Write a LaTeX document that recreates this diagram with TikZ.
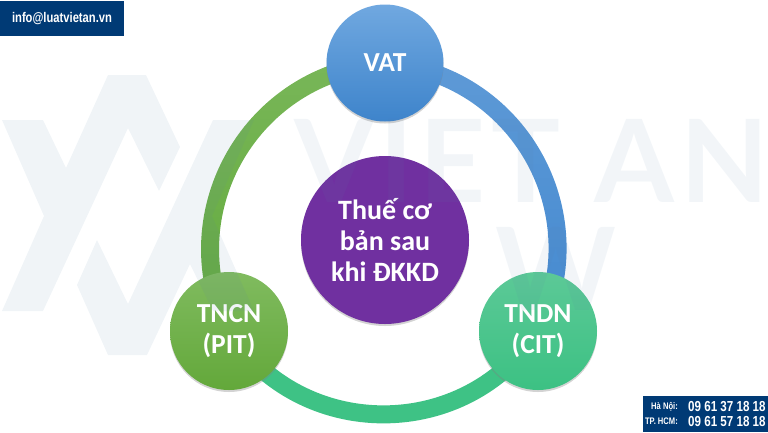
\documentclass[tikz,border=0pt]{standalone}
\usepackage{fontspec}
\setmainfont{Carlito}
\newfontfamily\boxfont[FakeStretch=0.8]{Liberation Sans}
\newfontfamily\markfont[LetterSpace=5]{Lato}
\usetikzlibrary{backgrounds,shadows,fadings}
\definecolor{navy}{HTML}{003A75}
\definecolor{wmblue}{HTML}{5A80A8}

\begin{document}
\begin{tikzpicture}[x=1pt, y=-1pt, every node/.style={circle},
    bubble/.style={inner sep=0pt, text=white, align=center, font=\fontsize{27.5}{30.5}\selectfont\bfseries,
        drop shadow={shadow xshift=0pt, shadow yshift=-2pt, opacity=0.35}},
    ring/.style={line width=18pt},
    gloss/.style={line width=18pt, white, path fading=south, draw opacity=0.15},
    box/.style={rectangle, inner sep=0pt, fill=navy},
    boxtext/.style={rectangle, inner sep=0pt, text=white, font=\boxfont\bfseries\fontsize{#1}{#1}\selectfont},
    wmtext/.style={rectangle, inner sep=0pt, text=wmblue, text opacity=0.08, font=\markfont\bfseries\fontsize{115}{115}\selectfont}]
        \useasboundingbox (0,0) rectangle (768,432);

        % Posizioni dei nodi
        \node[bubble, minimum size=117pt, top color={rgb,255:red,112;green,168;blue,224}, bottom color={rgb,255:red,62;green,132;blue,203}] (vat) at (385,63) {VAT};
        \node[bubble, minimum size=168pt, fill={rgb,255:red,112;green,48;blue,160}, font=\fontsize{28}{31}\selectfont\bfseries] (center) at (385,240) {Thuế cơ\\bản sau\\khi ĐKKD};
        \node[bubble, minimum size=118pt, top color={rgb,255:red,128;green,187;blue,95}, bottom color={rgb,255:red,99;green,168;blue,58}] (tncn) at (229,331) {TNCN\\(PIT)};
        \node[bubble, minimum size=118pt, top color={rgb,255:red,92;green,201;blue,151}, bottom color={rgb,255:red,60;green,193;blue,131}] (tndn) at (538,331) {TNDN\\(CIT)};

        % Archi
        \begin{scope}[on background layer]
            \draw[ring, color={rgb,255:red,67;green,137;blue,208}] (vat.center) to[bend left=56, looseness=1.1] (tndn.center);
            \draw[gloss] (vat.center) to[bend left=56, looseness=1.1] (tndn.center);
            \draw[ring, color={rgb,255:red,98;green,170;blue,60}] (vat.center) to[bend right=56, looseness=1.1] (tncn.center);
            \draw[gloss] (vat.center) to[bend right=56, looseness=1.1] (tncn.center);
            \draw[ring, color={rgb,255:red,62;green,194;blue,133}] (tncn.center) to[bend right=57, looseness=1.1] (tndn.center);
        \end{scope}

        % Scritte agli angoli
        \node[box, minimum width=124pt, minimum height=35pt] (mailbox) at (62,18.5) {};
        \node[boxtext=14] (mail) at (mailbox.center) {info@luatvietan.vn};
        \node[box, minimum width=125pt, minimum height=36pt] (phonebox) at (705.5,414) {};
        \node[boxtext=9.5, anchor=east] (hanoi) at (678,407) {Hà Nội:};
        \node[boxtext=9.5, anchor=east] (hcm) at (678,421) {TP. HCM:};
        \node[boxtext=14.5, anchor=west] (phone1) at (688,407) {09 61 37 18 18};
        \node[boxtext=14.5, anchor=west] (phone2) at (688,421) {09 61 57 18 18};

        % Filigrana
        \fill[wmblue, fill opacity=0.09]
            (2,120) -- (43,120) -- (66,168) -- (108,75) -- (146,75) -- (180,147) -- (159,191) -- (128,128)
            -- (43,311) -- (2,311) -- (44,216) -- cycle
            (128,304) -- (213,120) -- (254,120) -- (212,216) -- (254,311) -- (213,311) -- (190,264)
            -- (147,355) -- (108,355) -- (77,285) -- (97,240) -- cycle;
        \node[wmtext, anchor=base west] (viet) at (294,202) {VIET AN};
        \node[wmtext, anchor=base east] (w) at (617,310) {W};
    \end{tikzpicture}
\end{document}
